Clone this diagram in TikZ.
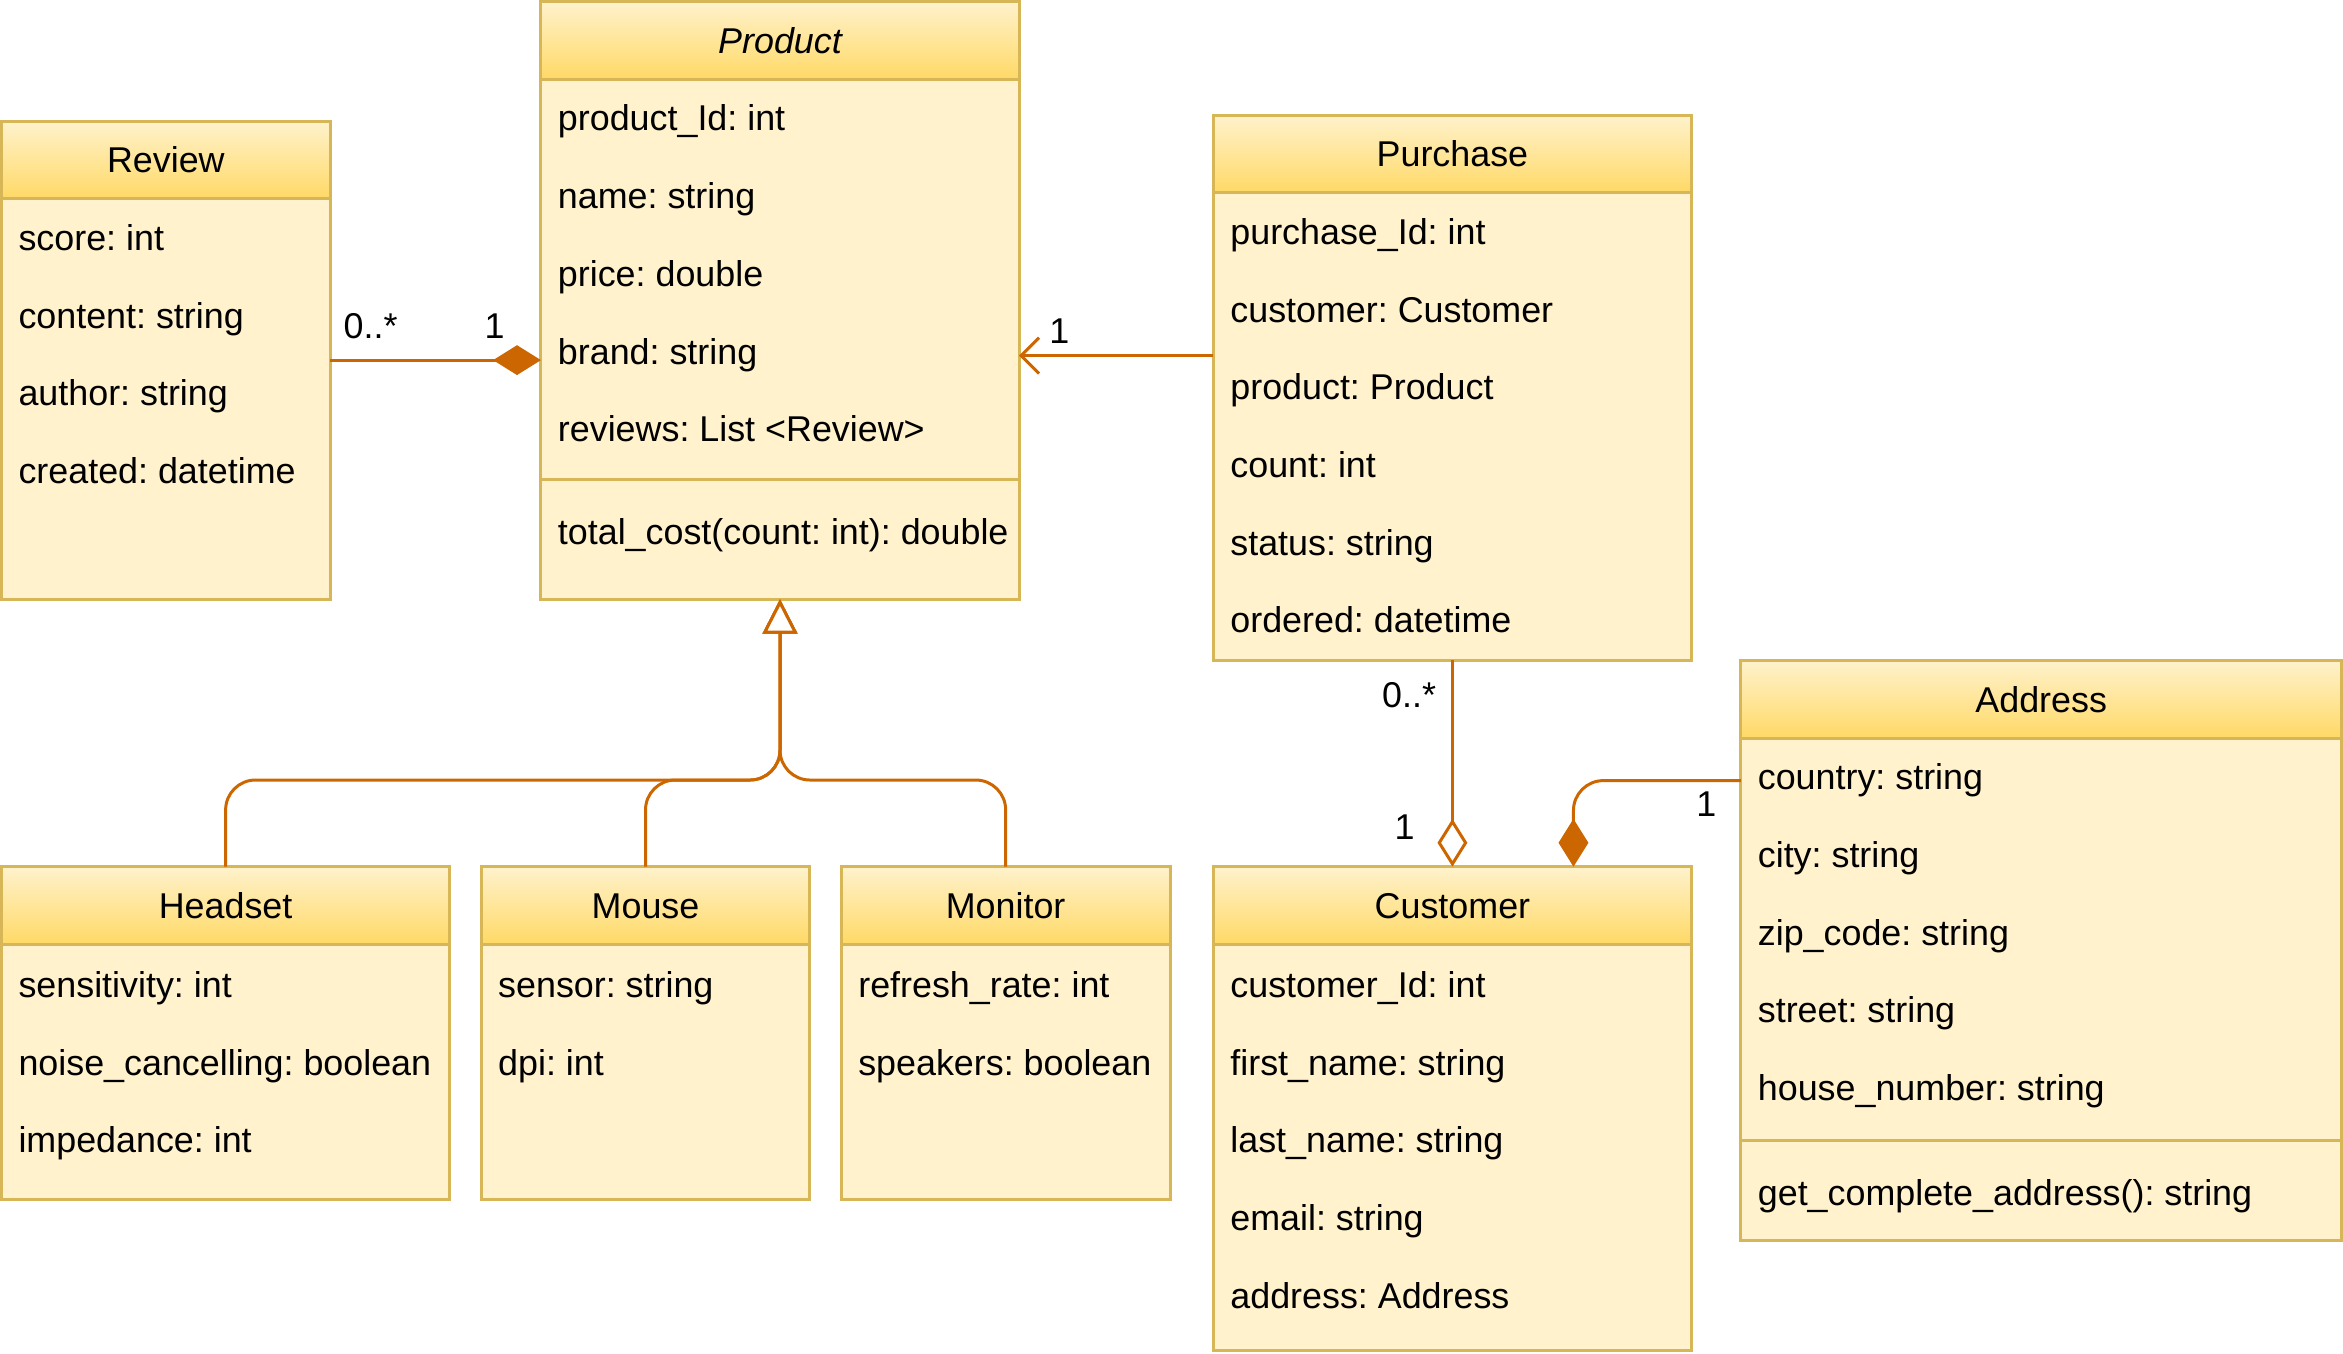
\documentclass[tikz,border=0pt]{standalone}
\usepackage{fontspec}
\setmainfont{Liberation Sans}
\frenchspacing
\usetikzlibrary{arrows.meta}
\definecolor{bodyc}{HTML}{FFF2CC}
\definecolor{hdrc}{HTML}{FFD966}
\definecolor{strokec}{HTML}{D6B656}
\definecolor{linec}{HTML}{CC6600}
\tikzset{
 classbox/.style={draw=strokec, fill=bodyc, line width=1pt, inner sep=0pt, outer sep=0pt, anchor=north west},
 hdr/.style={draw=strokec, top color=bodyc, bottom color=hdrc, line width=1pt, inner sep=0pt, outer sep=0pt, anchor=north west, minimum height=26pt, text height=8.6pt, text depth=0pt, font=\fontsize{12}{14}\selectfont},
 attr/.style={anchor=base west, inner sep=0pt, yshift=-4.3pt, font=\fontsize{12}{14}\selectfont},
 mult/.style={inner sep=0pt, text height=8.6pt, text depth=0pt, font=\fontsize{12}{14}\selectfont},
 sepline/.style={draw=strokec, line width=1pt},
 conn/.style={draw=linec, line width=1pt},
 fdiamond/.style={-{Diamond[length=16pt, width=10pt, fill=linec]}},
 odiamond/.style={-{Diamond[open, length=16pt, width=10pt, fill=white]}},
 gentri/.style={-{Triangle[open, length=11.5pt, width=11.5pt, fill=white]}},
 openarr/.style={-{Straight Barb[length=6pt, width=12pt]}},
}
\begin{document}
\begin{tikzpicture}[x=1pt, y=-1pt]
\useasboundingbox (0,0) rectangle (784,452.8);

% Review
\node[classbox, minimum width=110pt, minimum height=160pt] (review) at (0.5,40.5) {};
\node[hdr, minimum width=110pt] (reviewT) at (0.5,40.5) {Review};
\node[attr] (r1) at (6,79.5) {score: int};
\node[attr] (r2) at (6,105.5) {content: string};
\node[attr] (r3) at (6,131.5) {author: string};
\node[attr] (r4) at (6,157.5) {created: datetime};

% Product
\node[classbox, minimum width=160pt, minimum height=200pt] (product) at (181,0.5) {};
\node[hdr, minimum width=160pt] (productT) at (181,0.5) {\itshape Product};
\node[attr] (p1) at (186.5,39.5) {product\_Id: int};
\node[attr] (p2) at (186.5,65.5) {name: string};
\node[attr] (p3) at (186.5,91.5) {price: double};
\node[attr] (p4) at (186.5,117.5) {brand: string};
\node[attr] (p5) at (186.5,143.5) {reviews: List <Review>};
\draw[sepline] (181,160.5) -- (341,160.5);
\node[attr] (pm) at (186.5,178) {total\_cost(count: int): double};

% Purchase
\node[classbox, minimum width=160pt, minimum height=182.5pt] (purchase) at (406,38.5) {};
\node[hdr, minimum width=160pt] (purchaseT) at (406,38.5) {Purchase};
\node[attr] (u1) at (411.5,77.5) {purchase\_Id: int};
\node[attr] (u2) at (411.5,103.5) {customer: Customer};
\node[attr] (u3) at (411.5,129.5) {product: Product};
\node[attr] (u4) at (411.5,155.5) {count: int};
\node[attr] (u5) at (411.5,181.5) {status: string};
\node[attr] (u6) at (411.5,207.5) {ordered: datetime};

% Address
\node[classbox, minimum width=201pt, minimum height=194pt] (address) at (582.5,221) {};
\node[hdr, minimum width=201pt] (addressT) at (582.5,221) {Address};
\node[attr] (a1) at (588,260) {country: string};
\node[attr] (a2) at (588,286) {city: string};
\node[attr] (a3) at (588,312) {zip\_code: string};
\node[attr] (a4) at (588,338) {street: string};
\node[attr] (a5) at (588,364) {house\_number: string};
\draw[sepline] (582.5,381.5) -- (783.5,381.5);
\node[attr] (am) at (588,399) {get\_complete\_address(): string};

% Headset
\node[classbox, minimum width=150pt, minimum height=111.5pt] (headset) at (0.5,290) {};
\node[hdr, minimum width=150pt] (headsetT) at (0.5,290) {Headset};
\node[attr] (h1) at (6,329.5) {sensitivity: int};
\node[attr] (h2) at (6,355.5) {noise\_cancelling: boolean};
\node[attr] (h3) at (6,381.5) {impedance: int};

% Mouse
\node[classbox, minimum width=110pt, minimum height=111.5pt] (mouse) at (161,290) {};
\node[hdr, minimum width=110pt] (mouseT) at (161,290) {Mouse};
\node[attr] (m1) at (166.5,329.5) {sensor: string};
\node[attr] (m2) at (166.5,355.5) {dpi: int};

% Monitor
\node[classbox, minimum width=110pt, minimum height=111.5pt] (monitor) at (281.5,290) {};
\node[hdr, minimum width=110pt] (monitorT) at (281.5,290) {Monitor};
\node[attr] (n1) at (287,329.5) {refresh\_rate: int};
\node[attr] (n2) at (287,355.5) {speakers: boolean};

% Customer
\node[classbox, minimum width=160pt, minimum height=162pt] (customer) at (406,290) {};
\node[hdr, minimum width=160pt] (customerT) at (406,290) {Customer};
\node[attr] (c1) at (411.5,329.5) {customer\_Id: int};
\node[attr] (c2) at (411.5,355.5) {first\_name: string};
\node[attr] (c3) at (411.5,381.5) {last\_name: string};
\node[attr] (c4) at (411.5,407.5) {email: string};
\node[attr] (c5) at (411.5,433.5) {address: Address};

% Connectors
\coordinate (gj) at (261,261);
\draw[conn, gentri, rounded corners=10pt] (headset.north) |- (gj) -- (product.south);
\draw[conn, gentri, rounded corners=10pt] (mouseT.north) |- (gj) -- (product.south);
\draw[conn, gentri, rounded corners=10pt] (monitorT.north) |- (gj) -- (product.south);

\draw[conn, fdiamond] (review.east) -- (review.east -| product.west);
\coordinate (pp) at (406,119);
\draw[conn, openarr] (pp) -- (pp -| product.east);
\draw[conn, odiamond] (purchase.south) -- (customerT.north);
\coordinate (ca) at (526.5,290);
\draw[conn, fdiamond, rounded corners=10pt] (address.west |- a1) -| (ca);

% Multiplicities
\node[mult] (l1) at (124,109) {0..*};
\node[mult] (l2) at (165.5,109) {1};
\node[mult] (l3) at (354.5,110.5) {1};
\node[mult] (l4) at (471.5,232.5) {0..*};
\node[mult] (l5) at (470,276.5) {1};
\node[mult] (l6) at (571,269) {1};
\end{tikzpicture}
\end{document}
